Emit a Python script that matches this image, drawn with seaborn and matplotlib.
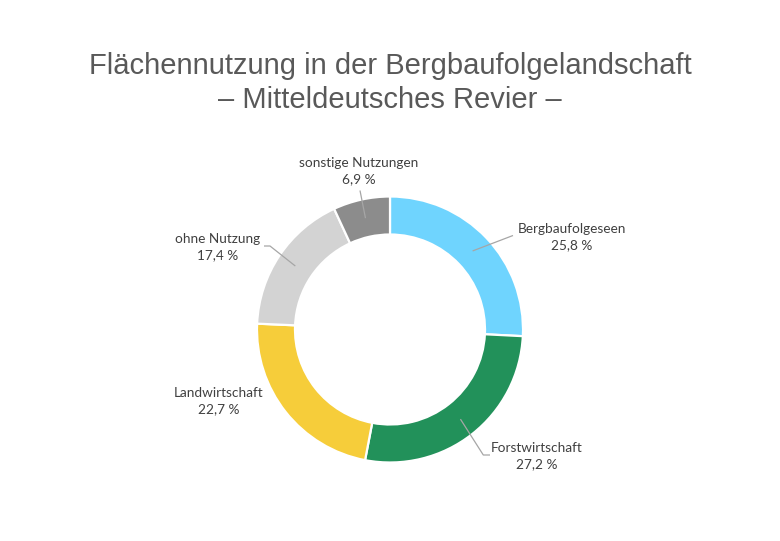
import matplotlib
matplotlib.use("Agg")
import matplotlib.pyplot as plt
import seaborn as sns
import numpy as np

# ---- data ----
categories = ["Bergbaufolgeseen", "Forstwirtschaft", "Landwirtschaft", "ohne Nutzung", "sonstige Nutzungen"]
shares = [25.8, 27.2, 22.7, 17.4, 6.9]
colors = ["#6FD4FE", "#22915A", "#F6CD3A", "#D3D3D3", "#8C8C8C"]
title_lines = ["Flächennutzung in der Bergbaufolgelandschaft", "– Mitteldeutsches Revier –"]

# ---- layout (pixels, y measured from top) ----
W, H = 780, 541
CX, CY = 390, 329.5
R_OUT, RING = 133, 38
# label block centre offsets relative to donut centre
label_off = [(182, -92.5), (147, 126.5), (-171, 71.5), (-172, -82.5), (-31, -158.5)]
# leader line end points (offset from centre); None = no leader
leader_end = [[(123, -94)], [(93.3, 125.5), (100, 125.5)], None,
              [(-120, -83.5), (-126, -83.5)], [(-30, -139)]]

sns.set_theme(style="white")
plt.rcParams["font.family"] = ["Lato", "DejaVu Sans"]

fig = plt.figure(figsize=(W / 100, H / 100), dpi=100)
ax = fig.add_axes([0, 0, 1, 1])

def Y(y):
    return H - y

wedges, _ = ax.pie(shares, colors=colors, radius=R_OUT, center=(CX, Y(CY)),
                   startangle=90, counterclock=False,
                   wedgeprops=dict(width=RING, edgecolor="white", linewidth=1.6))
ax.set_xlim(0, W)
ax.set_ylim(0, H)
ax.set_aspect("equal")
ax.axis("off")

r_mid = R_OUT - RING / 2
for w, cat, val, off, lead in zip(wedges, categories, shares, label_off, leader_end):
    ang = np.deg2rad((w.theta1 + w.theta2) / 2)
    sx, sy = CX + r_mid * np.cos(ang), Y(CY) + r_mid * np.sin(ang)
    if lead is not None:
        xs = [sx] + [CX + p[0] for p in lead]
        ys = [sy] + [Y(CY + p[1]) for p in lead]
        ax.plot(xs, ys, color="#A6A6A6", lw=0.9, solid_capstyle="butt")
    txt = f"{cat}\n{val:.1f} %".replace(".", ",")
    ax.text(CX + off[0], Y(CY + off[1]), txt, ha="center", va="center",
            fontsize=9.8, color="#404040", linespacing=1.42)

fig.text(0.5, 1 - 65.5 / H, title_lines[0], ha="center", va="center",
         fontsize=21, color="#595959", family=["Liberation Sans", "DejaVu Sans"])
fig.text(0.5, 1 - 100 / H, title_lines[1], ha="center", va="center",
         fontsize=21, color="#595959", family=["Liberation Sans", "DejaVu Sans"])

fig.savefig("out.png", dpi=100, facecolor="white")
